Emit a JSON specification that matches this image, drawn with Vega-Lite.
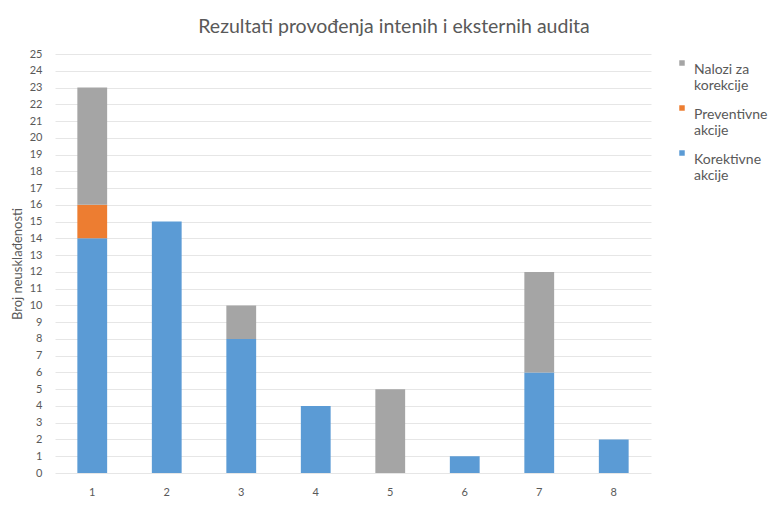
{
  "$schema": "https://vega.github.io/schema/vega-lite/v6.json",
  "width": 596,
  "height": 419,
  "autosize": {"type": "none"},
  "padding": {"left": 55, "top": 54, "right": 128, "bottom": 39},
  "background": "white",
  "title": {
    "text": "Rezultati provođenja intenih i eksternih audita",
    "anchor": "middle",
    "dx": 41,
    "offset": 11,
    "fontSize": 19.5,
    "font": "Lato",
    "fontWeight": "normal",
    "color": "#595959"
  },
  "data": {
    "values": [
      {"audit": "1", "vrsta": "Korektivne akcije", "broj": 14},
      {"audit": "1", "vrsta": "Preventivne akcije", "broj": 2},
      {"audit": "1", "vrsta": "Nalozi za korekcije", "broj": 7},
      {"audit": "2", "vrsta": "Korektivne akcije", "broj": 15},
      {"audit": "3", "vrsta": "Korektivne akcije", "broj": 8},
      {"audit": "3", "vrsta": "Nalozi za korekcije", "broj": 2},
      {"audit": "4", "vrsta": "Korektivne akcije", "broj": 4},
      {"audit": "5", "vrsta": "Nalozi za korekcije", "broj": 5},
      {"audit": "6", "vrsta": "Korektivne akcije", "broj": 1},
      {"audit": "7", "vrsta": "Korektivne akcije", "broj": 6},
      {"audit": "7", "vrsta": "Nalozi za korekcije", "broj": 6},
      {"audit": "8", "vrsta": "Korektivne akcije", "broj": 2}
    ]
  },
  "transform": [
    {"calculate": "datum.vrsta == 'Korektivne akcije' ? 0 : datum.vrsta == 'Preventivne akcije' ? 1 : 2", "as": "redoslijed"}
  ],
  "mark": {"type": "bar"},
  "encoding": {
    "x": {
      "field": "audit",
      "type": "ordinal",
      "scale": {"paddingInner": 0.6, "paddingOuter": 0.3},
      "axis": {
        "title": null,
        "labelAngle": 0,
        "labelPadding": 13,
        "domain": false,
        "ticks": false,
        "grid": false
      }
    },
    "y": {
      "field": "broj",
      "type": "quantitative",
      "aggregate": "sum",
      "stack": "zero",
      "scale": {"domain": [0, 25], "nice": false},
      "axis": {
        "title": "Broj neusklađenosti",
        "titleFontSize": 13,
        "values": [0, 1, 2, 3, 4, 5, 6, 7, 8, 9, 10, 11, 12, 13, 14, 15, 16, 17, 18, 19, 20, 21, 22, 23, 24, 25],
        "labelPadding": 13,
        "titlePadding": 5,
        "domain": false,
        "ticks": false,
        "grid": true
      }
    },
    "color": {
      "field": "vrsta",
      "type": "nominal",
      "scale": {
        "domain": ["Nalozi za korekcije", "Preventivne akcije", "Korektivne akcije"],
        "range": ["#a5a5a5", "#ed7d31", "#5b9bd5"]
      },
      "legend": {
        "title": null,
        "orient": "none",
        "legendX": 620,
        "legendY": 2,
        "padding": 0,
        "symbolType": "square",
        "symbolSize": 30,
        "symbolStrokeWidth": 0,
        "rowPadding": 8,
        "labelBaseline": "top",
        "labelOffset": 5,
        "labelFontSize": 14,
        "labelLimit": 200,
        "labelExpr": "datum.label == 'Nalozi za korekcije' ? ['Nalozi za', 'korekcije'] : datum.label == 'Preventivne akcije' ? ['Preventivne', 'akcije'] : ['Korektivne', 'akcije']",
        "encoding": {
          "labels": {"update": {"lineHeight": {"value": 19}, "dy": {"value": -5}}}
        }
      }
    },
    "order": {"field": "redoslijed", "type": "quantitative"}
  },
  "config": {
    "font": "Lato",
    "view": {"stroke": null},
    "axis": {
      "labelFont": "Lato",
      "titleFont": "Lato",
      "labelFontSize": 11,
      "titleFontSize": 11,
      "titleFontWeight": "normal",
      "labelColor": "#595959",
      "titleColor": "#595959",
      "gridColor": "#e6e6e6",
      "gridWidth": 1
    },
    "legend": {
      "labelFont": "Lato",
      "labelColor": "#595959"
    }
  }
}
